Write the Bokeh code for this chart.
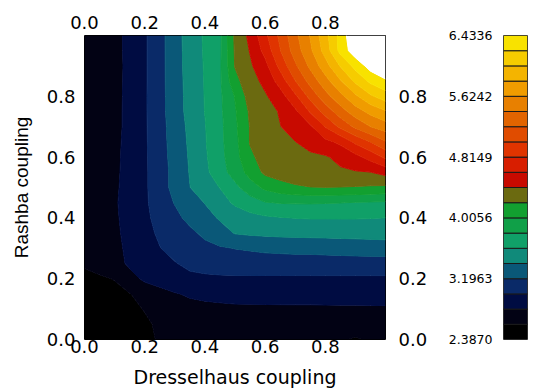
import numpy as np
from bokeh.plotting import figure
from bokeh.layouts import row
from bokeh.models import LinearAxis, FixedTicker, PrintfTickFormatter, Range1d
from bokeh.embed import file_html
from bokeh.resources import INLINE

# grid coordinates
dresselhaus = [0.00, 0.05, 0.10, 0.15, 0.20, 0.25, 0.30, 0.35, 0.40, 0.45, 0.50,
               0.55, 0.60, 0.65, 0.70, 0.75, 0.80, 0.85, 0.90, 0.95, 1.00]
rashba = [0.00, 0.05, 0.10, 0.15, 0.20, 0.25, 0.30, 0.35, 0.40, 0.45, 0.50,
          0.55, 0.60, 0.65, 0.70, 0.75, 0.80, 0.85, 0.90, 0.95, 1.00]

# field, in units of colour-band index (0 = 2.3870, 20 = 6.4336)
level_index = [
    [0.3, 0.4, 0.55, 0.7, 0.88, 1.05, 1.2, 1.3, 1.35, 1.4, 1.4, 1.4, 1.4, 1.4, 1.4, 1.35, 1.3, 1.1, 0.9, 1.1, 1.3],
    [0.4, 0.5, 0.62, 0.75, 0.9, 1.1, 1.3, 1.45, 1.55, 1.6, 1.6, 1.6, 1.6, 1.6, 1.6, 1.6, 1.6, 1.58, 1.5, 1.55, 1.6],
    [0.55, 0.6, 0.7, 0.85, 1.03, 1.3, 1.55, 1.7, 1.78, 1.82, 1.85, 1.86, 1.86, 1.87, 1.87, 1.87, 1.88, 1.88, 1.88, 1.89, 1.9],
    [0.75, 0.8, 0.88, 0.97, 1.3, 1.6, 1.93, 2.12, 2.2, 2.25, 2.3, 2.3, 2.32, 2.32, 2.33, 2.33, 2.33, 2.34, 2.34, 2.34, 2.34],
    [0.9, 0.93, 1.02, 1.6, 2.2, 2.5, 2.7, 2.8, 2.83, 2.85, 2.86, 2.86, 2.86, 2.86, 2.86, 2.86, 2.86, 2.86, 2.86, 2.86, 2.86],
    [1.05, 1.2, 1.55, 2.2, 2.55, 2.75, 2.95, 3.2, 3.35, 3.45, 3.5, 3.52, 3.53, 3.53, 3.54, 3.54, 3.55, 3.55, 3.55, 3.55, 3.55],
    [1.1, 1.3, 1.7, 2.25, 2.6, 2.97, 3.3, 3.55, 3.75, 3.9, 4.02, 4.1, 4.2, 4.25, 4.3, 4.3, 4.35, 4.4, 4.45, 4.5, 4.51],
    [1.15, 1.4, 1.8, 2.3, 2.7, 3.15, 3.45, 3.8, 4.2, 4.6, 5.05, 5.15, 5.2, 5.25, 5.27, 5.3, 5.3, 5.32, 5.33, 5.35, 5.38],
    [1.2, 1.45, 1.85, 2.35, 2.8, 3.3, 3.75, 4.25, 4.65, 5.1, 5.45, 5.7, 5.85, 5.95, 6.02, 6.05, 6.05, 6.05, 6.05, 6.03, 5.99],
    [1.25, 1.5, 1.9, 2.35, 2.85, 3.45, 4.05, 4.55, 5.03, 5.6, 6.15, 6.55, 6.95, 7.05, 7.08, 7.08, 7.05, 7.02, 6.95, 6.9, 6.85],
    [1.3, 1.55, 1.85, 2.35, 2.85, 3.55, 4.3, 4.98, 5.6, 6.02, 6.75, 7.55, 8.2, 8.6, 8.85, 8.97, 8.99, 8.97, 8.93, 8.87, 8.8],
    [1.3, 1.53, 1.82, 2.32, 2.85, 3.55, 4.3, 5.05, 5.75, 6.6, 7.4, 8.35, 9.2, 9.45, 9.6, 9.7, 9.78, 9.85, 9.92, 9.98, 10.32],
    [1.3, 1.52, 1.8, 2.3, 2.85, 3.6, 4.35, 5.1, 5.85, 6.7, 7.6, 8.85, 9.3, 9.5, 9.65, 9.78, 9.9, 10.25, 10.7, 11.35, 12.2],
    [1.3, 1.5, 1.78, 2.28, 2.87, 3.6, 4.43, 5.15, 5.92, 6.75, 7.7, 9.05, 9.4, 9.65, 9.98, 10.4, 10.75, 11.2, 12.2, 13.0, 13.9],
    [1.3, 1.5, 1.75, 2.25, 2.88, 3.6, 4.5, 5.2, 5.95, 6.75, 7.8, 9.05, 9.45, 9.97, 10.4, 10.83, 12.04, 13.21, 14.19, 14.99, 15.5],
    [1.3, 1.5, 1.75, 2.25, 2.88, 3.65, 4.55, 5.3, 6.02, 6.8, 7.9, 9.15, 9.6, 10.08, 10.8, 12.1, 13.4, 14.54, 15.53, 16.29, 16.9],
    [1.3, 1.5, 1.74, 2.24, 2.88, 3.66, 4.56, 5.32, 6.04, 6.82, 8.05, 9.45, 9.88, 10.55, 11.8, 13.32, 14.62, 15.71, 16.81, 17.84, 18.51],
    [1.3, 1.5, 1.73, 2.23, 2.87, 3.67, 4.57, 5.35, 6.05, 6.85, 8.7, 9.6, 10.25, 11.42, 12.97, 14.36, 15.61, 16.9, 18.2, 19.22, 19.8],
    [1.3, 1.5, 1.72, 2.22, 2.87, 3.67, 4.58, 5.38, 6.08, 6.85, 9.05, 9.85, 10.68, 12.3, 13.82, 15.21, 16.57, 18.06, 19.31, 20.41, 21.27],
    [1.3, 1.5, 1.75, 2.22, 2.87, 3.67, 4.59, 5.4, 6.1, 6.82, 9.12, 10.05, 11.32, 12.95, 14.47, 15.79, 17.4, 19.3, 20.6, 21.45, 22.57],
    [1.3, 1.5, 1.75, 2.22, 2.87, 3.67, 4.6, 5.43, 6.13, 6.8, 9.19, 10.24, 11.76, 13.24, 14.74, 16.06, 17.67, 19.33, 21.0, 22.0, 23.0],
]

z_min = 2.3870
z_max = 6.4336
n_bands = 20
level_step = (z_max - z_min) / n_bands
z = z_min + np.array(level_index) * level_step

colorbar_ticks = [2.3870, 3.1963, 4.0056, 4.8149, 5.6242, 6.4336]
axis_ticks = [0.0, 0.2, 0.4, 0.6, 0.8]

band_colors = [
    "#000000", "#020214", "#000c42", "#0a2a68", "#0a5878",
    "#108a7a", "#10a068", "#10a048", "#12a030", "#6b6a10",
    "#c80a00", "#d81e00", "#e03400", "#e04c00", "#e26400",
    "#e88000", "#f09c00", "#f4b400", "#f6cc00", "#f8e200",
]
above_color = "#ffffff"

levels = [z_min + k * level_step for k in range(n_bands + 1)] + [z_min + 25 * level_step]
fill_colors = band_colors + [above_color]
line_colors = [band_colors[0]] + band_colors[1:] + [above_color, above_color]

WIDE = "DejaVu Sans"
NARROW = "Liberation Sans"

p = figure(width=435, height=390, x_range=Range1d(0, 1), y_range=Range1d(0, 1),
           toolbar_location=None, output_backend="svg",
           min_border_left=84, min_border_right=50, min_border_top=31, min_border_bottom=51)
p.contour(x=np.array(dresselhaus), y=np.array(rashba), z=z, levels=levels,
          fill_color=fill_colors, line_color=line_colors, line_width=1)

p.add_layout(LinearAxis(), "above")
p.add_layout(LinearAxis(), "right")

standoffs = {"below": 0, "above": 7, "left": 9, "right": 13}
for side, sd in standoffs.items():
    for ax in getattr(p, side):
        ax.ticker = FixedTicker(ticks=axis_ticks)
        ax.formatter = PrintfTickFormatter(format="%.1f")
        ax.major_tick_line_color = None
        ax.minor_tick_line_color = None
        ax.major_tick_out = 0
        ax.major_tick_in = 0
        ax.minor_tick_out = 0
        ax.minor_tick_in = 0
        ax.axis_line_color = None
        ax.major_label_text_font = WIDE
        ax.major_label_text_font_size = "18px"
        ax.major_label_text_color = "black"
        ax.major_label_standoff = sd

p.below[0].axis_label = "Dresselhaus coupling"
p.below[0].axis_label_standoff = 10
p.below[0].axis_label_text_font = WIDE
p.left[0].axis_label = "Rashba coupling"
p.left[0].axis_label_standoff = 12
p.left[0].axis_label_text_font = NARROW
for ax in (p.below[0], p.left[0]):
    ax.axis_label_text_font_size = "19px"
    ax.axis_label_text_font_style = "normal"
    ax.axis_label_text_color = "black"

p.grid.visible = False
p.outline_line_color = "black"
p.outline_line_width = 1

cb = figure(width=102, height=390, x_range=Range1d(0, 1),
            y_range=Range1d(z_min - 0.0001, z_max + 0.0001),
            toolbar_location=None, output_backend="svg", x_axis_location=None,
            min_border_left=68, min_border_right=10, min_border_top=35, min_border_bottom=49)
cb.quad(left=0, right=1, bottom=levels[:n_bands], top=levels[1:n_bands + 1],
        fill_color=band_colors, line_color="#1a1a1a", line_width=1)
cb.grid.visible = False
cb.outline_line_color = "#555555"
ya = cb.yaxis[0]
ya.ticker = FixedTicker(ticks=colorbar_ticks)
ya.formatter = PrintfTickFormatter(format="%.4f")
ya.major_tick_line_color = None
ya.minor_tick_line_color = None
ya.major_tick_out = 0
ya.major_tick_in = 0
ya.minor_tick_out = 0
ya.minor_tick_in = 0
ya.axis_line_color = None
ya.major_label_text_font = WIDE
ya.major_label_text_font_size = "12.5px"
ya.major_label_text_color = "black"
ya.major_label_standoff = 11

layout = row(p, cb)
open("out.html", "w").write(file_html(layout, INLINE))
